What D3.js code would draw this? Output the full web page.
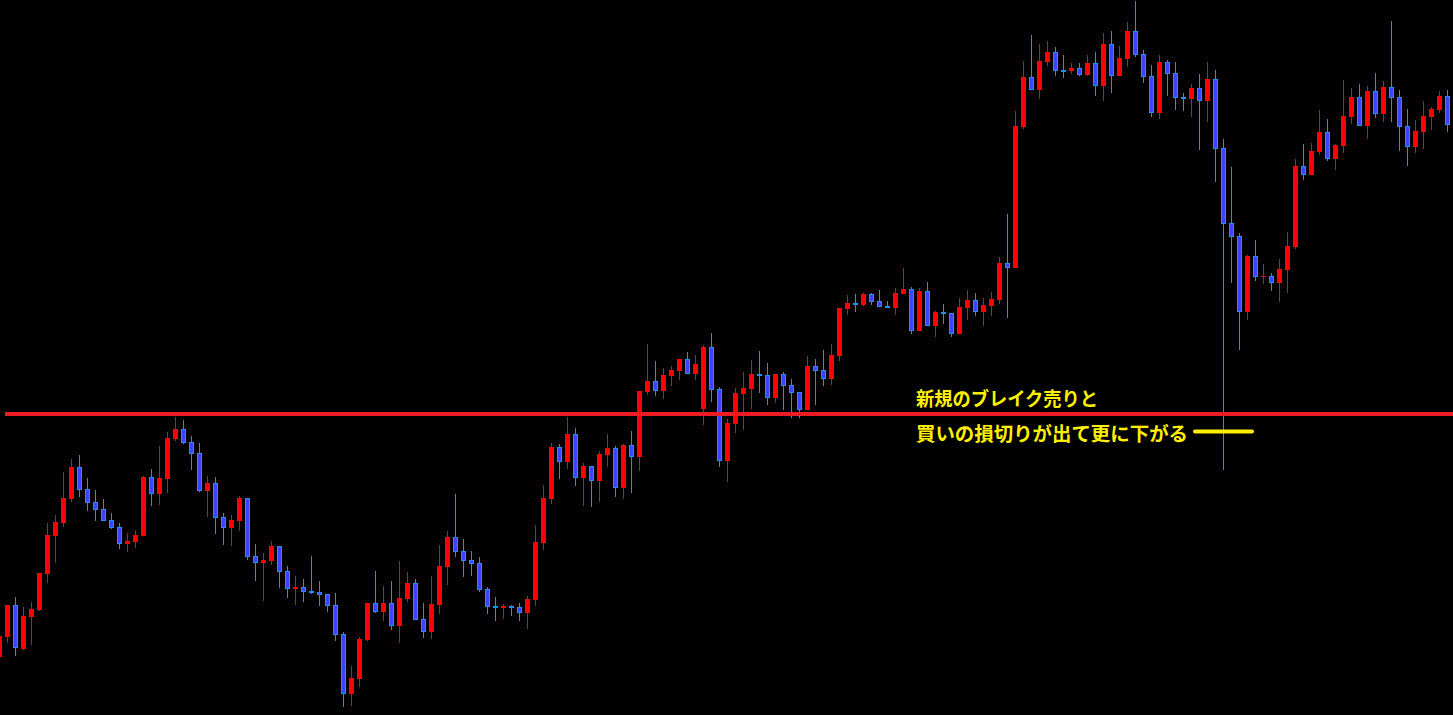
<!DOCTYPE html>
<html>
<head>
<meta charset="utf-8">
<script src="https://cdn.jsdelivr.net/npm/d3@7"></script>
<style>
html,body{margin:0;padding:0;background:#000;overflow:hidden;}
svg{display:block;}
</style>
</head>
<body>
<svg id="chart" width="1453" height="715"></svg>
<script>
// Candle index categories (182 bars)
const candleIndex = d3.range(182);

const openValues = [
58,78.3,110,66,98.3,105,141.3,179.3,192.3,216.3,
248,226,213,206,195,188,171.3,173.3,179,238,
221.3,236.3,276,286,273,262,224.3,232,198,187.3,
194,217,159,152.3,154,169,144,126,128,124,
123,121,110,81,21.3,36,75,112,103.3,112,
89.3,116,132,96,83.3,110,148,178,164,155,
152,126,109,108.3,109,108,102.3,115.3,172,216,
268,253.3,281,237.3,249,234,260,267,227.3,270,
258.3,323.3,334,324.3,339.3,344.3,356,341.3,306.3,368,
326,254.3,291.3,321.3,326.3,341,340,317.3,341,330,
323,305.3,349,345,336.3,359.3,406.3,412,410.3,421,
414,409,407.3,421,426,384.3,424,389.3,403,402,
381.3,407.3,415,403.3,409,415,452,447,588,638,
625.3,653.3,663,645,644.3,647,640,652,629.3,671,
639.3,656,684,661,639,602.3,653,642,618,616.3,
627,614.3,636,567,492,479,403.3,459,438.3,439,
432.3,445.3,468,549,540.3,563.3,583,556.3,569.3,598.3,
618,589.3,624,601.3,628,618,589,568.3,583.3,598.3,
605.3,619];

const closeValues = [
79,110,66.7,99,106,142,180,193,217,248,
225.3,212.3,205.3,194.3,187.3,171.3,174,180,238,221.3,
237,277,286,272,261.3,224.3,232,197.3,187.3,195,
217,158.3,152.3,155,169,143.3,126.3,128,123.3,122,
120.3,109.3,80.3,21.3,37,76,112,103.3,112,89.3,
117,132,95.3,83.3,111,149,178,163.3,154.3,151.3,
125.3,108.3,108.3,109,107.3,102.3,116,173,217,268,
253.3,281,237.3,249,234.3,261,267,227.3,270,258.3,
324,334,324.3,340,345,356,341.3,351,368,325.3,
254.3,292.3,322,327,341,339.3,317.3,341,329.3,322.3,
305.3,349,344.3,336.3,360,407,412,410.3,421,413,
408,407.3,422,426,384.3,424,389.3,403,401.3,381.3,
408,415,403.3,410,416,452,447.3,589,638,625.3,
654,663,644.3,644,647,640.3,652,629.3,671,639.3,
657,684,660.3,638.3,602.3,653,641.3,617.3,616.3,627,
614.3,636,566.3,491.3,478.3,403.3,459,438.3,439.3,432.3,
446,469,549,540.3,564,583,556.3,570,599,618,
589.3,624,601.3,628,617.3,588.3,568.3,584,599,606,
619,590.3];

const highValues = [
85,110,118.3,108,113,142,192,200,243,256,
260,237,225,216,202,192,182,185,239,246,
269,283,298,295,279,272,239.3,238,202,200,
219,217,171,162,174,169,149,139,136,159,
134,121,122,83,49,78,112,144,129,134,
154,143,136,112,139,170,184,221,176,164,
158,128,118,111,110,112,119,190,230,272,
271,298,287,252,249,264,281,269,271,284,
324,371,354,347,349,356,363,360,370,382,
328,296.3,327,343,355,364,352,341,343,336,
323,359,356,365,371,407,420,421,422,422,
425,414,427,447,428,427,433,404,411,402,
417,425,422,417,423,458,501,604,654,680,
671,674,668,660,652,652,660,663,682,684,
669,693,714,665,650,660,655,653,622,631,
641,653,645,576,548,482,460,475,451,442,
456,483,556,571,572,605,596,571,635,627,
631,629,642,634,694,625,606,595,614,608,
624,625];

const lowValues = [
55,71.7,59.3,65,70,104,132.3,152.3,188.3,213.3,
218.3,204.3,194.3,194.3,186.3,166.3,163.3,167.3,179,209.3,
210,222,274,271.3,245,223.3,198,181.3,170,169.3,
184,155.3,134,114,150,127.3,117.3,110,113.3,121.3,
109.3,103.3,74.3,8.3,9.3,28.3,74,102.3,94.3,85.3,
72,113.3,95.3,77.3,76.3,101.3,130.3,158.3,138.3,139.3,
123.3,101.3,94.3,96.3,99.3,94.3,86.3,109.3,165,211,
236.3,246.3,229.3,209.3,208.3,213.3,248.3,218.3,216.3,222.3,
244.3,320.3,319.3,316.3,329.3,335.3,341.3,335.3,290.3,313.3,
248.3,233.3,282.3,285.3,306.3,322.3,310.3,312.3,305,297.3,
297.3,305.3,310.3,329.3,330.3,354.3,400.3,403.3,409,410,
408,407.3,400,421,381.3,384.3,389.3,378.3,391.3,378.3,
381.3,395,399,389,399,411,397,447,586,625.3,
616.3,649.3,639.3,637.3,641.3,639.3,639.3,619.3,614.3,622.3,
639.3,648,658.3,632.3,598.3,596.3,619.3,605.3,604.3,598.3,
565.3,593.3,533.3,245,432.3,365.3,395.3,434.3,431.3,424.3,
413.3,422.3,466.3,535,540.3,560.3,554.3,545.3,562.3,591.3,
589.3,576.3,597.3,593.3,593.3,564.3,549.3,562.3,566.3,585.3,
602.3,583.3];

// Horizontal break level
const breakLevel = [301];

// Annotation texts
const noteLines = ["新規のブレイク売りと", "買いの損切りが出て更に下がる"];

const W = 1453, H = 715;
const svg = d3.select("#chart");
svg.append("rect").attr("width", W).attr("height", H).attr("fill", "#000");

const x = d3.scaleLinear().domain([0, 181]).range([-0.5, 1447.5]);
const y = d3.scaleLinear().domain([0, 715]).range([715, 0]);

const candles = candleIndex.map(i => ({
  i, o: openValues[i], h: highValues[i], l: lowValues[i], c: closeValues[i]
}));

const UP = "#FF0000";
const DOWN_FILL = "#3D44FF";
const DOWN_EDGE = "#1E90FF";

const g = svg.append("g").attr("shape-rendering", "crispEdges");

// wicks
g.selectAll("rect.wick").data(candles).join("rect")
  .attr("class", "wick")
  .attr("x", d => x(d.i) - 0.5)
  .attr("width", 1)
  .attr("y", d => y(d.h))
  .attr("height", d => Math.max(1, y(d.l) - y(d.h)))
  .attr("fill", d => d.c >= d.o ? UP : DOWN_EDGE);

// up bodies
g.selectAll("rect.up").data(candles.filter(d => d.c >= d.o)).join("rect")
  .attr("class", "up")
  .attr("x", d => x(d.i) - 2.5)
  .attr("width", 5)
  .attr("y", d => y(d.c))
  .attr("height", d => Math.max(1.5, y(d.o) - y(d.c)))
  .attr("fill", UP);

// down bodies
const downs = candles.filter(d => d.c < d.o);
g.selectAll("rect.down").data(downs).join("rect")
  .attr("class", "down")
  .attr("x", d => x(d.i) - 2.5)
  .attr("width", 5)
  .attr("y", d => y(d.o))
  .attr("height", d => Math.max(1.5, y(d.c) - y(d.o)))
  .attr("fill", DOWN_EDGE);
g.selectAll("rect.downin").data(downs.filter(d => y(d.c) - y(d.o) > 2.5)).join("rect")
  .attr("class", "downin")
  .attr("x", d => x(d.i) - 1.5)
  .attr("width", 3)
  .attr("y", d => y(d.o) + 1)
  .attr("height", d => y(d.c) - y(d.o) - 2)
  .attr("fill", DOWN_FILL);

// horizontal red break line
svg.selectAll("line.level").data(breakLevel).join("line")
  .attr("class", "level")
  .attr("x1", 5).attr("x2", W)
  .attr("y1", d => y(d)).attr("y2", d => y(d))
  .attr("stroke", "#ED1C24")
  .attr("stroke-width", 4);

// annotation text
const yellow = "#FFF000";
const textWidths = [182, 272];
svg.selectAll("text.note").data(noteLines).join("text")
  .attr("class", "note")
  .attr("x", 916)
  .attr("y", (d, i) => i === 0 ? 397.5 : 432)
  .attr("dominant-baseline", "central")
  .attr("font-family", "'Noto Sans CJK JP', 'Noto Sans', sans-serif")
  .attr("font-weight", "bold")
  .attr("font-size", 19)
  .attr("textLength", (d, i) => textWidths[i])
  .attr("lengthAdjust", "spacingAndGlyphs")
  .attr("fill", yellow)
  .text(d => d);

// yellow pointer line
svg.append("line")
  .attr("x1", 1195).attr("x2", 1252)
  .attr("y1", 431.5).attr("y2", 431.5)
  .attr("stroke", yellow)
  .attr("stroke-width", 4)
  .attr("stroke-linecap", "round");
</script>
</body>
</html>
